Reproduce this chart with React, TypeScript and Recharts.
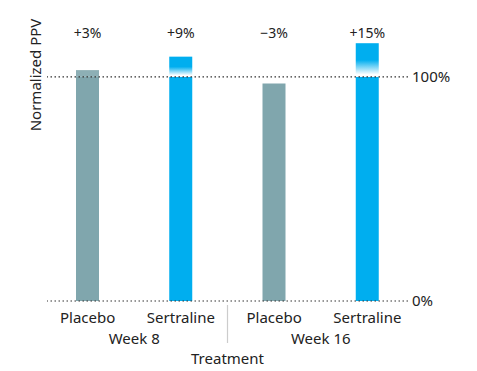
import React from 'react';
import { BarChart, Bar, XAxis, YAxis, ReferenceLine, Cell } from 'recharts';

// ---------------------------------------------------------------------------
// Data
// ---------------------------------------------------------------------------

const TREATMENTS = ['Placebo', 'Sertraline', 'Placebo', 'Sertraline'];
const WEEKS = ['Week 8', 'Week 8', 'Week 16', 'Week 16'];
const PPV = [103, 109, 97, 115];
const Y_TICKS = [0, 100];

const PLACEBO = '#80A6AD';
const PLACEBO_LIGHT = '#8DAFB5';
const SERTRALINE = '#00AEEF';
const FONT = '"Noto Sans", "Open Sans", sans-serif';
const TEXT = '#222';

const data = TREATMENTS.map((t, i) => ({
  key: `${WEEKS[i]}-${t}`,
  treatment: t,
  week: WEEKS[i],
  value: PPV[i],
  base: Math.min(PPV[i], 100),
  extra: Math.max(PPV[i] - 100, 0),
}));

const fmtDelta = (v: number) => {
  const d = v - 100;
  return d >= 0 ? `+${d}%` : `\u2212${Math.abs(d)}%`;
};

// ---------------------------------------------------------------------------
// Custom pieces
// ---------------------------------------------------------------------------

function TreatmentTick(props: any) {
  const { x, y, payload } = props;
  const i = payload.index;
  const half = payload.offset ?? 46.6;
  const row = data[i];
  const firstOfWeek = i === 0 || data[i - 1].week !== row.week;
  const lastOfWeek = i < data.length - 1 && data[i + 1].week !== row.week;
  return (
    <g>
      <text x={x} y={y + 22} textAnchor="middle" fontSize={15} fill={TEXT} fontFamily={FONT}>
        {row.treatment}
      </text>
      {firstOfWeek && (
        <text x={x + half} y={y + 43} textAnchor="middle" fontSize={15} fill={TEXT} fontFamily={FONT}>
          {row.week}
        </text>
      )}
      {lastOfWeek && (
        <line x1={x + half} x2={x + half} y1={y + 4} y2={y + 42} stroke="#cccccc" strokeWidth={1.2} />
      )}
    </g>
  );
}

function ExtraShape(props: any) {
  const { x, y, width, height, payload } = props;
  if (!height || height <= 0) return null;
  const fill = payload.treatment === 'Sertraline' ? 'url(#sertFade)' : PLACEBO_LIGHT;
  return <rect x={x} y={y} width={width} height={height} fill={fill} />;
}

function DeltaLabel(props: any) {
  const { x, width, value } = props;
  return (
    <text x={x + width / 2} y={38} textAnchor="middle" fontSize={14} fill={TEXT} fontFamily={FONT}>
      {fmtDelta(value)}
    </text>
  );
}

// ---------------------------------------------------------------------------
// Component
// ---------------------------------------------------------------------------

export default function App() {
  return (
    <div style={{ position: 'absolute', left: 0, top: 0, background: '#fff' }}>
      <BarChart
        width={477}
        height={371}
        data={data}
        margin={{ top: 32, right: 9, bottom: 0, left: 47 }}
        barSize={23}
      >
        <defs>
          <linearGradient id="sertFade" x1="0" y1="0" x2="0" y2="1">
            <stop offset="0.5" stopColor={SERTRALINE} />
            <stop offset="0.93" stopColor="#ffffff" />
            <stop offset="1" stopColor="#ffffff" />
          </linearGradient>
        </defs>
        <XAxis
          dataKey="key"
          axisLine={false}
          tickLine={false}
          tickSize={0}
          tickMargin={0}
          height={70}
          interval={0}
          padding={{ left: -6, right: -6 }}
          tick={<TreatmentTick />}
          label={{
            value: 'Treatment',
            position: 'insideBottom',
            offset: 7,
            fontSize: 15,
            fill: TEXT,
            fontFamily: FONT,
          }}
        />
        <YAxis
          orientation="right"
          domain={[0, 120]}
          ticks={Y_TICKS}
          tickFormatter={(v) => `${v}%`}
          axisLine={false}
          tickLine={false}
          tickSize={0}
          tickMargin={4}
          width={60}
          tick={{ fontSize: 15, fill: TEXT, fontFamily: FONT }}
        />
        <ReferenceLine y={100} stroke="#333" strokeDasharray="1.5 2.5" strokeWidth={1.2} />
        <ReferenceLine y={0} stroke="#333" strokeDasharray="1.5 2.5" strokeWidth={1.2} />
        <Bar dataKey="base" stackId="a" isAnimationActive={false}>
          {data.map((d, i) => (
            <Cell key={`c-${i}`} fill={d.treatment === 'Sertraline' ? SERTRALINE : PLACEBO} />
          ))}
        </Bar>
        <Bar
          dataKey="extra"
          stackId="a"
          isAnimationActive={false}
          shape={<ExtraShape />}
          label={(p: any) => <DeltaLabel key={p.index} {...p} value={data[p.index].value} />}
        />
        <text
          x={35}
          y={75}
          transform="rotate(-90, 35, 75)"
          textAnchor="middle"
          dominantBaseline="central"
          fontSize={15}
          fill={TEXT}
          fontFamily={FONT}
        >
          Normalized PPV
        </text>
      </BarChart>
    </div>
  );
}
